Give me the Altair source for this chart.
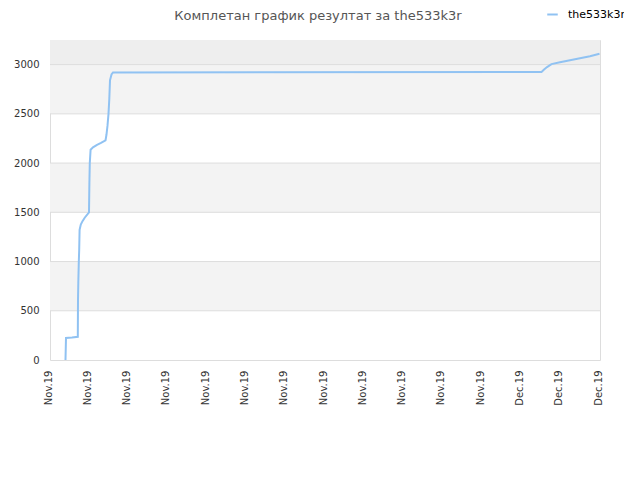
import altair as alt
import pandas as pd

# ---- data ----
times = [
    "2019-11-01T23:40:00Z", "2019-11-02T00:26:00Z", "2019-11-02T09:36:00Z", "2019-11-02T18:28:00Z",
    "2019-11-02T18:46:00Z", "2019-11-02T19:14:00Z", "2019-11-02T20:00:00Z", "2019-11-02T20:36:00Z",
    "2019-11-02T21:12:00Z", "2019-11-02T23:02:00Z", "2019-11-03T01:38:00Z", "2019-11-03T05:00:00Z",
    "2019-11-03T11:34:00Z", "2019-11-03T12:10:00Z", "2019-11-03T12:46:00Z", "2019-11-03T14:00:00Z",
    "2019-11-03T17:40:00Z", "2019-11-03T23:47:00Z", "2019-11-04T05:53:00Z", "2019-11-04T12:46:00Z",
    "2019-11-04T14:17:00Z", "2019-11-04T15:49:00Z", "2019-11-04T17:21:00Z", "2019-11-04T18:33:00Z",
    "2019-11-04T19:38:00Z", "2019-11-04T21:56:00Z", "2019-11-05T00:13:00Z", "2019-12-02T06:43:00Z",
    "2019-12-02T10:34:00Z", "2019-12-02T15:09:00Z", "2019-12-02T21:53:00Z", "2019-12-03T10:52:00Z",
    "2019-12-04T02:10:00Z", "2019-12-04T17:27:00Z", "2019-12-05T08:45:00Z", "2019-12-05T23:14:00Z",
]
scores = [
    0, 224, 228, 235,
    610, 783, 1000, 1119,
    1322, 1375, 1410, 1445,
    1500, 1800, 2000, 2136,
    2160, 2185, 2205, 2230,
    2290, 2380, 2500, 2650,
    2840, 2900, 2920, 2925,
    2950, 2975, 3005, 3025,
    3045, 3065, 3085, 3110,
]
series_name = "the533k3r"
title_text = "Комплетан график резултат за the533k3r"

band_lo = [500, 1500, 2500, 3000]
band_hi = [1000, 2000, 3000, 3250]
band_col = ["#f3f3f3", "#f3f3f3", "#f3f3f3", "#eeeeee"]
grid_vals = [500, 1000, 1500, 2000, 2500, 3000]
y_ticks = [0, 500, 1000, 1500, 2000, 2500, 3000]

x_start = pd.Timestamp("2019-11-01T00:00:00Z")
x_end = pd.Timestamp("2019-12-06T00:00:00Z")
tick_ms = [int((x_start + pd.Timedelta(hours=60 * i)).timestamp() * 1000) for i in range(15)]
dom = [int(x_start.timestamp() * 1000), int(x_end.timestamp() * 1000)]

line_df = pd.DataFrame({"t": times, "score": scores, "series": series_name})
band_df = pd.DataFrame({"lo": band_lo, "hi": band_hi, "col": band_col})
grid_df = pd.DataFrame({"v": grid_vals})
title_df = pd.DataFrame({"label": [title_text]})

FONT = "DejaVu Sans"
yscale = alt.Scale(domain=[0, 3250], nice=False, zero=True)
yaxis = alt.Axis(
    values=y_ticks, format="d", ticks=False, domain=False, grid=False, title=None,
    labelPadding=11, labelFont=FONT, labelFontSize=10, labelColor="#333333",
)

bands = alt.Chart(band_df).mark_rect().encode(
    x=alt.value(0), x2=alt.value(550),
    y=alt.Y("lo:Q", scale=yscale, axis=yaxis),
    y2="hi:Q",
    fill=alt.Fill("col:N", scale=None, legend=None),
)

grid = alt.Chart(grid_df).mark_rule(color="#dddddd", strokeWidth=1).encode(
    x=alt.value(0), x2=alt.value(550),
    y=alt.Y("v:Q", scale=yscale, axis=yaxis),
)

line = alt.Chart(line_df).mark_line(interpolate="linear", strokeWidth=2).encode(
    x=alt.X(
        "t:T",
        scale=alt.Scale(type="utc", domain=dom),
        axis=alt.Axis(
            values=tick_ms, format="%b.%y", labelAngle=-90, labelAlign="right",
            labelBaseline="middle", labelPadding=10, ticks=False, domain=False,
            grid=False, title=None, labelFont=FONT, labelFontSize=10,
            labelColor="#333333", labelOverlap=False, labelOffset=-2,
        ),
    ),
    y=alt.Y("score:Q", scale=yscale, axis=yaxis),
    color=alt.Color(
        "series:N",
        scale=alt.Scale(domain=[series_name], range=["#90c2f2"]),
        legend=alt.Legend(
            title=None, orient="none", legendX=496, legendY=-32,
            symbolType="stroke", symbolSize=110, symbolStrokeWidth=2,
            labelOffset=9,
            labelFont=FONT, labelFontSize=11, labelColor="#000000",
        ),
    ),
)

title = alt.Chart(title_df).mark_text(
    font=FONT, fontSize=13, color="#555555", align="center", baseline="middle",
).encode(
    x=alt.value(268), y=alt.value(-24), text="label:N",
)

chart = alt.layer(bands, grid, line, title).resolve_scale(
    color="independent", fill="independent"
).resolve_legend(color="independent", fill="independent").properties(
    width=550, height=320,
    autosize=alt.AutoSizeParams(type="none"),
    padding={"left": 42, "top": 32, "right": 24, "bottom": 60},
).configure_view(stroke="#dddddd", strokeWidth=1)

chart.save("out.html", embed_options={"renderer": "svg", "actions": False})
